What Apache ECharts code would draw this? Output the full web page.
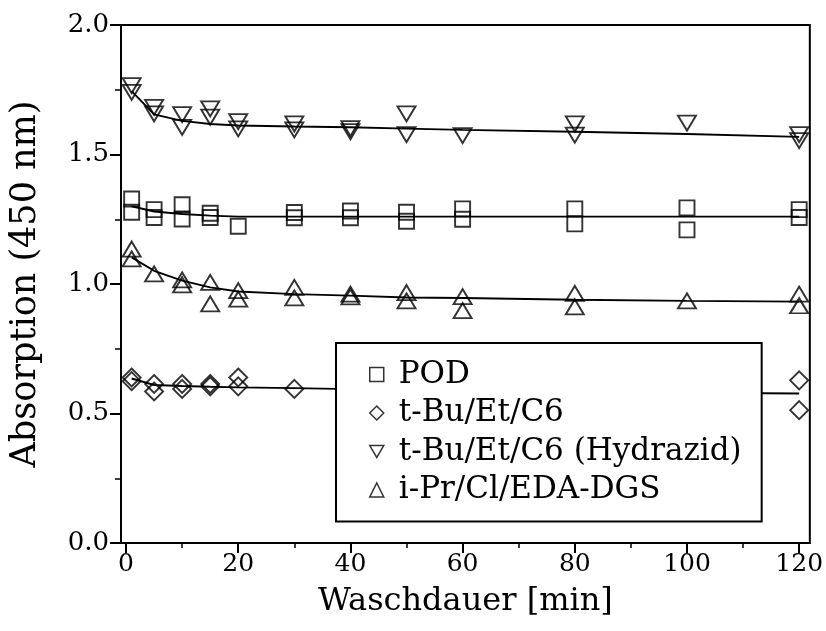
<!DOCTYPE html>
<html>
<head>
<meta charset="utf-8">
<script src="https://cdn.jsdelivr.net/npm/echarts@6/dist/echarts.min.js"></script>
<style>
html,body{margin:0;padding:0;background:#fff;}
#chart{width:826px;height:631px;}
</style>
</head>
<body>
<div id="chart"></div>
<script>
// ---- data ----
var seriesNames = ['POD', 't-Bu/Et/C6', 't-Bu/Et/C6 (Hydrazid)', 'i-Pr/Cl/EDA-DGS'];
var xMajorTicks = [0, 20, 40, 60, 80, 100, 120];
var xMinorTicks = [10, 30, 50, 70, 90, 110];

var podPoints = [[1,1.328],[1,1.277],[5,1.287],[5,1.257],[10,1.306],[10,1.251],[15,1.273],[15,1.257],
  [20,1.223],[30,1.276],[30,1.256],[40,1.282],[40,1.256],[50,1.277],[50,1.242],[60,1.29],[60,1.25],
  [80,1.29],[80,1.232],[100,1.294],[100,1.209],[120,1.287],[120,1.257]];
var tbuPoints = [[1,0.639],[1,0.625],[5,0.614],[5,0.585],[10,0.614],[10,0.595],[15,0.614],[15,0.605],
  [20,0.639],[20,0.605],[30,0.595],[120,0.628],[120,0.513]];
var hydPoints = [[1,1.766],[1,1.740],[5,1.682],[5,1.657],[10,1.654],[10,1.605],[15,1.676],[15,1.644],
  [20,1.627],[20,1.599],[30,1.618],[30,1.595],[40,1.600],[40,1.588],[50,1.657],[50,1.577],[60,1.573],
  [80,1.618],[80,1.575],[100,1.621],[120,1.577],[120,1.554]];
var edaPoints = [[1,1.135],[1,1.097],[5,1.039],[10,1.016],[10,0.997],[15,1.006],[15,0.923],[20,0.974],
  [20,0.942],[30,0.987],[30,0.946],[40,0.961],[40,0.950],[50,0.967],[50,0.935],[60,0.951],[60,0.897],
  [80,0.964],[80,0.912],[100,0.935],[120,0.961],[120,0.916]];

var fitX = [1, 5, 10, 15, 20, 30, 40, 50, 60, 80, 100, 120];
var podFit = [1.30, 1.28, 1.27, 1.264, 1.26, 1.26, 1.26, 1.26, 1.26, 1.26, 1.26, 1.26];
var tbuFit = [0.635, 0.61, 0.606, 0.603, 0.601, 0.598, 0.594, 0.591, 0.588, 0.584, 0.58, 0.577];
var hydFit = [1.745, 1.655, 1.63, 1.618, 1.612, 1.608, 1.605, 1.60, 1.595, 1.588, 1.579, 1.568];
var edaFit = [1.103, 1.051, 1.013, 0.987, 0.971, 0.961, 0.955, 0.948, 0.946, 0.939, 0.935, 0.932];

// ---- chart ----
var FONT = 'DejaVu Serif';
var DOWN_TRI = 'path://M0,0L2,0L1,1.7z';
function pairs(xs, ys){ return xs.map(function(x,i){ return [x, ys[i]]; }); }
var markerStyle = { color: 'rgba(0,0,0,0)', borderColor: '#000', borderWidth: 1.9 };

function scatter(name, data, symbol, size, rotate){
  return { name: name, type: 'scatter', data: data, symbol: symbol, symbolSize: size,
    symbolRotate: rotate || 0, itemStyle: markerStyle, z: 3, silent: true };
}
function fit(name, ys){
  return { name: name, type: 'line', data: pairs(fitX, ys), showSymbol: false, symbol: 'none',
    lineStyle: { color: '#000', width: 1.9 }, z: 2, silent: true };
}

var chart = echarts.init(document.getElementById('chart'), null, { renderer: 'canvas' });
chart.setOption({
  animation: false,
  backgroundColor: '#fff',
  textStyle: { fontFamily: FONT, color: '#000' },
  grid: { left: 119, right: 14, top: 25, bottom: 88, show: true, borderColor: '#000', borderWidth: 2, backgroundColor: 'transparent' },
  xAxis: [{
    type: 'value', min: -0.9, max: 121.9, position: 'bottom',
    name: 'Waschdauer [min]', nameLocation: 'middle', nameGap: 43,
    nameTextStyle: { fontFamily: FONT, fontSize: 32, color: '#000' },
    axisLine: { onZero: false, lineStyle: { color: '#000', width: 2 } },
    axisTick: { show: true, inside: false, length: 10, lineStyle: { color: '#000', width: 2 }, customValues: xMajorTicks },
    axisLabel: { fontFamily: FONT, fontSize: 25, color: '#000', margin: 9, customValues: xMajorTicks },
    splitLine: { show: false }
  }, {
    type: 'value', min: -0.9, max: 121.9, position: 'bottom', offset: 0,
    axisLine: { show: false, onZero: false },
    axisTick: { show: true, inside: false, length: 5, lineStyle: { color: '#000', width: 1.5 }, customValues: xMinorTicks },
    axisLabel: { show: false },
    splitLine: { show: false }
  }],
  yAxis: {
    type: 'value', min: 0, max: 2, interval: 0.5,
    name: 'Absorption (450 nm)', nameLocation: 'middle', nameGap: 78,
    nameTextStyle: { fontFamily: FONT, fontSize: 35, color: '#000' },
    axisLine: { show: true, onZero: false, lineStyle: { color: '#000', width: 2 } },
    axisTick: { show: true, inside: false, length: 11, lineStyle: { color: '#000', width: 2 } },
    minorTick: { show: true, splitNumber: 2, length: 6, lineStyle: { color: '#000', width: 1.5 } },
    axisLabel: { fontFamily: FONT, fontSize: 26, color: '#000', margin: 12, formatter: function(v){ return v.toFixed(1); } },
    splitLine: { show: false }, minorSplitLine: { show: false }
  },
  legend: {
    data: [
      { name: seriesNames[0] },
      { name: seriesNames[1] },
      { name: seriesNames[2], icon: DOWN_TRI },
      { name: seriesNames[3] }
    ],
    orient: 'vertical', left: 336, top: 343,
    padding: [16, 20, 16, 33], itemGap: 7.5, itemWidth: 14, itemHeight: 14,
    backgroundColor: '#fff', borderColor: '#000', borderWidth: 2, borderRadius: 0,
    textStyle: { fontFamily: FONT, fontSize: 31, color: '#000', lineHeight: 30, padding: [0, 0, 0, 10] },
    itemStyle: { color: 'rgba(0,0,0,0)', borderColor: '#000', borderWidth: 1.5 },
    selectedMode: false, z: 10
  },
  series: [
    fit('fit POD', podFit),
    fit('fit tbu', tbuFit),
    fit('fit hyd', hydFit),
    fit('fit eda', edaFit),
    scatter(seriesNames[0], podPoints, 'rect', [15, 15]),
    scatter(seriesNames[1], tbuPoints, 'diamond', [18, 18]),
    scatter(seriesNames[2], hydPoints, 'triangle', [18, 15], 180),
    scatter(seriesNames[3], edaPoints, 'triangle', [18, 15])
  ]
});
</script>
</body>
</html>
